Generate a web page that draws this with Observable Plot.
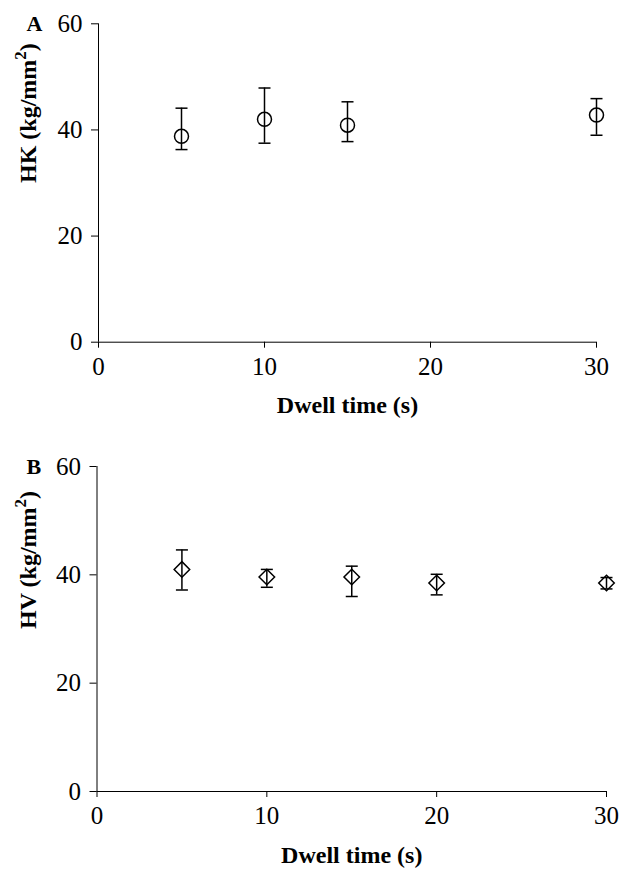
<!DOCTYPE html>
<html>
<head>
<meta charset="utf-8">
<script src="https://cdn.jsdelivr.net/npm/d3@7"></script>
<script src="https://cdn.jsdelivr.net/npm/@observablehq/plot@0.6"></script>
<style>
  html, body { margin: 0; padding: 0; background: #fff; }
  #chart > svg, #chart > figure { display: block; margin: 0; }
</style>
</head>
<body>
<div id="chart"></div>
<script>
// Panel A: Knoop hardness
const dwellA = [5, 10, 15, 30];
const hk = [38.8, 42.0, 40.9, 42.8];
const hkLow = [36.3, 37.5, 37.8, 39.0];
const hkHigh = [44.1, 47.9, 45.3, 45.9];

// Panel B: Vickers hardness
const dwellB = [5, 10, 15, 20, 30];
const hv = [41.0, 39.6, 39.6, 38.5, 38.5];
const hvLow = [37.2, 37.7, 36.0, 36.3, 37.4];
const hvHigh = [44.6, 41.0, 41.6, 40.1, 39.5];

const xTicks = [0, 10, 20, 30];
const yTicks = [0, 20, 40, 60];
const xLabel = "Dwell time (s)";
const yLabelA = "HK (kg/mm²)";
const yLabelB = "HV (kg/mm²)";

const dataA = dwellA.map((t, i) => ({t, v: hk[i], lo: hkLow[i], hi: hkHigh[i]}));
const dataB = dwellB.map((t, i) => ({t, v: hv[i], lo: hvLow[i], hi: hvHigh[i]}));

// horizontal cap symbol for error bars
const cap = {
  draw(context, size) {
    const w = Math.sqrt(size / Math.PI);
    context.moveTo(-w, 0);
    context.lineTo(w, 0);
  }
};

const FONT = "'Liberation Serif', 'Times New Roman', serif";

function panel({data, symbol, r, yLabel, letter, height, mt, mb, ml, mr}) {
  return Plot.plot({
    width: 619,
    height,
    marginTop: mt,
    marginBottom: mb,
    marginLeft: ml,
    marginRight: mr,
    x: {domain: [0, 30]},
    y: {domain: [0, 60]},
    style: {fontFamily: FONT, fontSize: "25px", color: "#000", background: "#fff", overflow: "visible"},
    marks: [
      Plot.axisY(yTicks, {tickSize: 7, tickPadding: 9, label: null, stroke: "#000", fontSize: 25, fontFamily: FONT, fill: "#000"}),
      Plot.axisX(xTicks, {tickSize: 6, tickPadding: 9, label: null, stroke: "#000", fontSize: 25, fontFamily: FONT, fill: "#000"}),
      Plot.ruleX([0], {stroke: "#000", strokeWidth: 1}),
      Plot.ruleY([0], {stroke: "#000", strokeWidth: 1}),
      Plot.ruleX(data, {x: "t", y1: "lo", y2: "hi", stroke: "#000", strokeWidth: 1.5}),
      Plot.dot(data, {x: "t", y: "lo", symbol: cap, r: 6, stroke: "#000", strokeWidth: 1.5}),
      Plot.dot(data, {x: "t", y: "hi", symbol: cap, r: 6, stroke: "#000", strokeWidth: 1.5}),
      Plot.dot(data, {x: "t", y: "v", symbol, r, stroke: "#000", fill: "none", strokeWidth: 1.5}),
      Plot.text([xLabel], {frameAnchor: "bottom", dy: 71, lineAnchor: "bottom", fontWeight: "bold", fontSize: 24, fontFamily: FONT, fill: "#000"}),
      Plot.text([yLabel], {frameAnchor: "left", dx: 35 - ml, rotate: -90, lineAnchor: "bottom", fontWeight: "bold", fontSize: 24, fontFamily: FONT, fill: "#000"}),
      Plot.text([letter], {frameAnchor: "top-left", dx: 26 - ml, textAnchor: "start", lineAnchor: "middle", fontWeight: "bold", fontSize: 22, fontFamily: FONT, fill: "#000"})
    ]
  });
}

// render "²" as a raised superscript tspan (text stays real text)
function superscript(svg) {
  const NS = "http://www.w3.org/2000/svg";
  svg.querySelectorAll("text, tspan").forEach((el) => {
    if (el.children.length) return;
    const s = el.textContent;
    const i = s.indexOf("²");
    if (i < 0) return;
    el.textContent = "";
    el.append(document.createTextNode(s.slice(0, i)));
    const sup = document.createElementNS(NS, "tspan");
    sup.setAttribute("font-size", "70%");
    sup.setAttribute("dy", "-0.55em");
    sup.textContent = "2";
    el.append(sup);
    const rest = document.createElementNS(NS, "tspan");
    rest.setAttribute("dy", "0.385em");
    rest.textContent = s.slice(i + 1);
    el.append(rest);
  });
  return svg;
}

const chart = document.getElementById("chart");
chart.append(superscript(panel({data: dataA, symbol: "circle", r: 7, yLabel: yLabelA, letter: "A",
  height: 431, mt: 23.3, mb: 89.3, ml: 98, mr: 23})));
chart.append(superscript(panel({data: dataB, symbol: "diamond2", r: 7, yLabel: yLabelB, letter: "B",
  height: 440, mt: 35, mb: 80, ml: 96.5, mr: 13})));
</script>
</body>
</html>
